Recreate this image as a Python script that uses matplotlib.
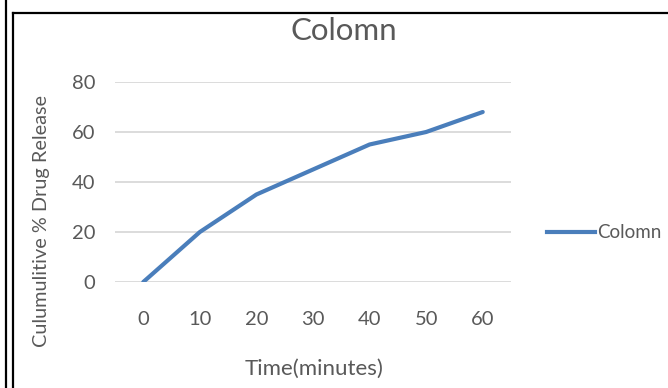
import matplotlib
matplotlib.use("Agg")
import matplotlib.pyplot as plt
from matplotlib.lines import Line2D

plt.rcParams['font.family'] = ['Lato', 'DejaVu Sans']

# Release data
time_min = [0, 10, 20, 30, 40, 50, 60]
release = [0, 20, 35, 45, 55, 60, 68]
y_ticks = [0, 20, 40, 60, 80]
series_name = "Colomn"
title = "Colomn"
x_label = "Time(minutes)"
y_label = "Culumulitive % Drug Release"

W, H = 668, 388
fig = plt.figure(figsize=(W / 100, H / 100), dpi=100)
text_color = "#595959"
line_color = "#4a7ebb"

ax = fig.add_axes([115 / W, 1 - 282 / H, (511 - 115) / W, (282 - 82) / H])
ax.plot(time_min, release, color=line_color, lw=3.0, solid_capstyle="round",
        solid_joinstyle="round", label=series_name, zorder=3)
ax.set_xlim(-5, 65)
ax.set_ylim(0, 80)
ax.set_xticks(time_min)
ax.set_yticks(y_ticks)
ax.grid(axis="y", color="#d9d9d9", lw=1.3)
ax.set_axisbelow(True)
for s in ax.spines.values():
    s.set_visible(False)
ax.tick_params(length=0, labelsize=14.5, colors=text_color)
ax.tick_params(axis="x", pad=21)
ax.tick_params(axis="y", pad=14)
for lbl in ax.get_xticklabels() + ax.get_yticklabels():
    lbl.set_color(text_color)

fig.text(344 / W, 1 - 31 / H, title, ha="center", va="center",
         fontsize=22.5, color=text_color)
fig.text(314 / W, 1 - 369 / H, x_label, ha="center", va="center",
         fontsize=16, color=text_color)
fig.text(42 / W, 1 - 221 / H, y_label, ha="center", va="center",
         rotation=90, fontsize=14.3, color=text_color)

# Legend entry
fig.add_artist(Line2D([547 / W, 595 / W], [1 - 232 / H, 1 - 232 / H],
                      transform=fig.transFigure, color=line_color, lw=3.0))
fig.text(597 / W, 1 - 232 / H, series_name, ha="left", va="center",
         fontsize=13.5, color=text_color)

# Surrounding cell border
fig.add_artist(Line2D([5.5 / W, 5.5 / W], [0, 1], transform=fig.transFigure,
                      color="black", lw=1.6))
fig.add_artist(Line2D([13 / W, 13 / W], [0, 1 - 13 / H], transform=fig.transFigure,
                      color="black", lw=1.6))
fig.add_artist(Line2D([13 / W, 1], [1 - 13 / H, 1 - 13 / H], transform=fig.transFigure,
                      color="black", lw=1.6))

fig.savefig("out.png", dpi=100)
